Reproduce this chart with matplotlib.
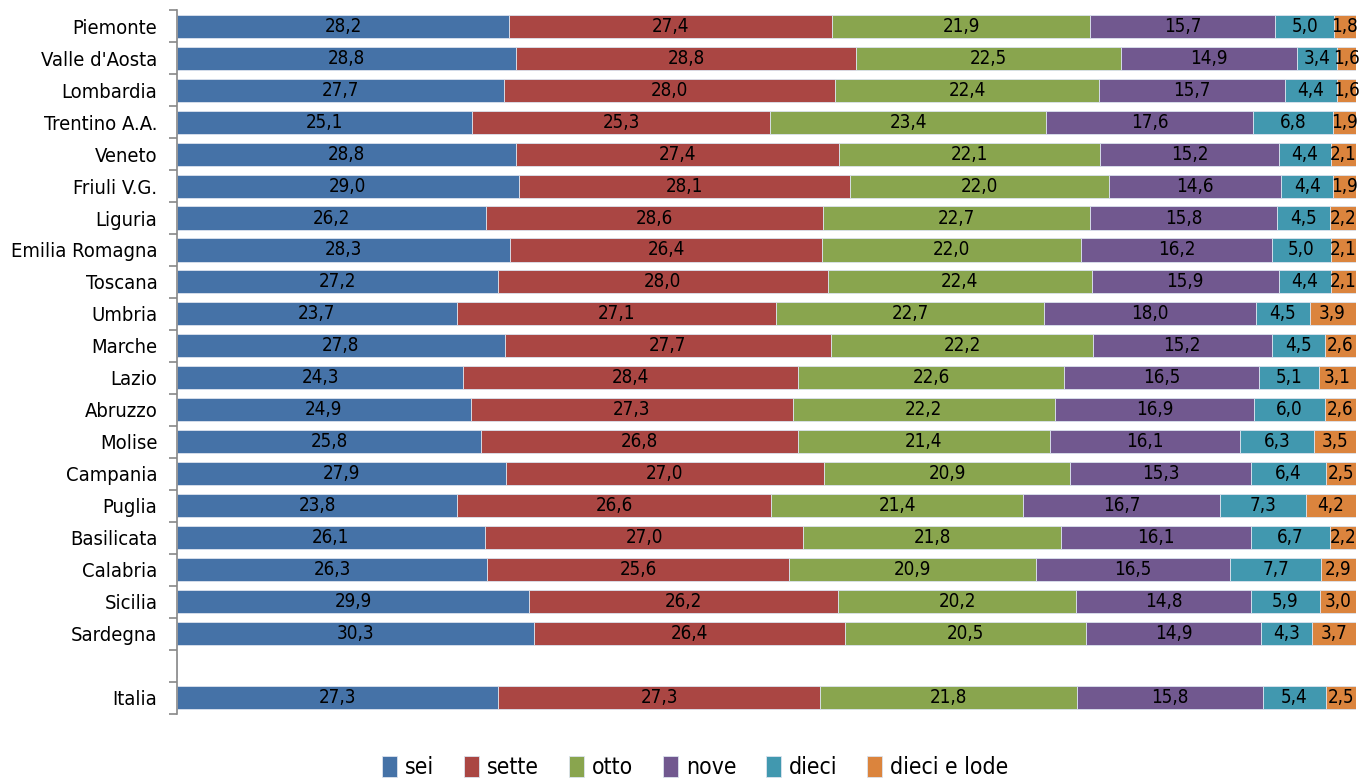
import matplotlib.pyplot as plt
import numpy as np

regions = ["Piemonte", "Valle d'Aosta", "Lombardia", "Trentino A.A.", "Veneto",
           "Friuli V.G.", "Liguria", "Emilia Romagna", "Toscana", "Umbria",
           "Marche", "Lazio", "Abruzzo", "Molise", "Campania", "Puglia",
           "Basilicata", "Calabria", "Sicilia", "Sardegna", "", "Italia"]

sei = [28.2, 28.8, 27.7, 25.1, 28.8, 29.0, 26.2, 28.3, 27.2, 23.7, 27.8,
       24.3, 24.9, 25.8, 27.9, 23.8, 26.1, 26.3, 29.9, 30.3, 0, 27.3]
sette = [27.4, 28.8, 28.0, 25.3, 27.4, 28.1, 28.6, 26.4, 28.0, 27.1, 27.7,
         28.4, 27.3, 26.8, 27.0, 26.6, 27.0, 25.6, 26.2, 26.4, 0, 27.3]
otto = [21.9, 22.5, 22.4, 23.4, 22.1, 22.0, 22.7, 22.0, 22.4, 22.7, 22.2,
        22.6, 22.2, 21.4, 20.9, 21.4, 21.8, 20.9, 20.2, 20.5, 0, 21.8]
nove = [15.7, 14.9, 15.7, 17.6, 15.2, 14.6, 15.8, 16.2, 15.9, 18.0, 15.2,
        16.5, 16.9, 16.1, 15.3, 16.7, 16.1, 16.5, 14.8, 14.9, 0, 15.8]
dieci = [5.0, 3.4, 4.4, 6.8, 4.4, 4.4, 4.5, 5.0, 4.4, 4.5, 4.5,
         5.1, 6.0, 6.3, 6.4, 7.3, 6.7, 7.7, 5.9, 4.3, 0, 5.4]
lode = [1.8, 1.6, 1.6, 1.9, 2.1, 1.9, 2.2, 2.1, 2.1, 3.9, 2.6,
        3.1, 2.6, 3.5, 2.5, 4.2, 2.2, 2.9, 3.0, 3.7, 0, 2.5]

series = ["sei", "sette", "otto", "nove", "dieci", "dieci e lode"]
colors = ["#4572A7", "#AA4643", "#89A54E", "#71588F", "#4198AF", "#DB843D"]

plt.rcParams['font.family'] = ['DejaVu Sans']
plt.rcParams['font.stretch'] = 'condensed'

data = np.array([sei, sette, otto, nove, dieci, lode])
totals = data.sum(axis=0)
totals[totals == 0] = 1
pct = data / totals * 100

fig = plt.figure(figsize=(13.61, 7.8), dpi=100)
ax = fig.add_axes([0.130, 0.085, 0.866, 0.902])

y = np.arange(len(regions))
left = np.zeros(len(regions))
for i, name in enumerate(series):
    ax.barh(y, pct[i], left=left, height=0.72, color=colors[i],
            edgecolor="#dce3ee", linewidth=0.6, label=name)
    for j in range(len(regions)):
        if data[i, j] > 0:
            ax.text(left[j] + pct[i, j] / 2, y[j], f"{data[i, j]:.1f}".replace(".", ","),
                    ha="center", va="center", fontsize=13.5, color="black")
    left += pct[i]

ax.set_xlim(0, 100)
ax.set_ylim(len(regions) - 0.5, -0.5)
ax.set_yticks(y)
ax.set_yticklabels(regions, fontsize=14.5)
ax.set_yticks(np.arange(-0.5, len(regions)), minor=True)
ax.tick_params(axis="y", which="major", length=0, pad=14)
ax.tick_params(axis="y", which="minor", length=6, color="#888888", width=1.2)
ax.set_xticks([])
for s in ["top", "right", "bottom"]:
    ax.spines[s].set_visible(False)
ax.spines["left"].set_color("#888888")
ax.spines["left"].set_linewidth(1.2)

ax.legend(loc="center", bbox_to_anchor=(0.44, -0.077), ncol=6, frameon=False,
          fontsize=16.5, handlelength=0.65, handleheight=1.0, handletextpad=0.35,
          columnspacing=1.3)

fig.savefig("out.png", dpi=100)
